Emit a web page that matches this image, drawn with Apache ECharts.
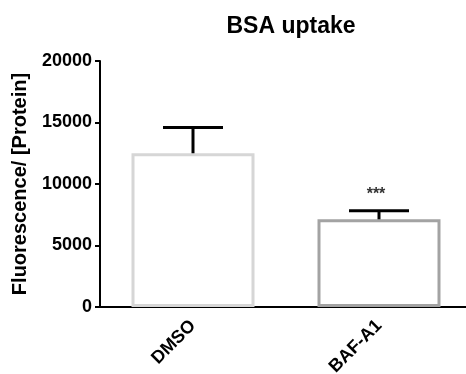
<!DOCTYPE html>
<html>
<head>
<meta charset="utf-8">
<script src="https://cdn.jsdelivr.net/npm/echarts@6/dist/echarts.min.js"></script>
<style>
  html, body { margin: 0; padding: 0; background: #fff; }
  #chart { width: 466px; height: 374px; }
</style>
</head>
<body>
<div id="chart"></div>
<script>
// data
const categories = ['DMSO', 'BAF-A1']
const means = [12500, 7130]
const errors = [2100, 700]
const stars = ['', '***']
const barColors = ['#d6d6d6', '#a3a3a3']
const yTicks = [0, 5000, 10000, 15000, 20000]

const font = '"Liberation Sans", Arial, sans-serif'

const chart = echarts.init(document.getElementById('chart'))

const errData = categories.map((c, i) => [i, means[i], means[i] + errors[i], stars[i]])

chart.setOption({
  animation: false,
  title: {
    text: 'BSA uptake',
    left: 286,
    top: 10,
    textAlign: 'center',
    textStyle: { fontFamily: font, fontWeight: 'bold', fontSize: 23, color: '#000' }
  },
  grid: { left: 100, right: -6, top: 61, bottom: 67, outerBoundsMode: 'none' },
  xAxis: {
    type: 'category',
    data: categories,
    axisLine: { lineStyle: { color: '#000', width: 2 } },
    axisTick: { alignWithLabel: true, length: 6, lineStyle: { color: '#000', width: 2 } },
    axisLabel: {
      rotate: 45,
      margin: 16,
      color: '#000',
      fontFamily: font,
      fontWeight: 'bold',
      fontSize: 18
    }
  },
  yAxis: {
    type: 'value',
    min: yTicks[0],
    max: yTicks[yTicks.length - 1],
    interval: 5000,
    name: 'Fluorescence/ [Protein]',
    nameLocation: 'middle',
    nameGap: 70,
    nameTextStyle: { fontFamily: font, fontWeight: 'bold', fontSize: 20, color: '#000' },
    axisLine: { show: true, lineStyle: { color: '#000', width: 2 } },
    axisTick: { show: true, length: 5, lineStyle: { color: '#000', width: 2 } },
    axisLabel: {
      color: '#000',
      fontFamily: font,
      fontWeight: 'bold',
      fontSize: 18,
      margin: 8,
      formatter: v => String(v)
    },
    splitLine: { show: false }
  },
  series: [
    {
      type: 'bar',
      barWidth: 123,
      data: means.map((v, i) => ({
        value: v,
        itemStyle: { color: '#fff', borderColor: barColors[i], borderWidth: 3 }
      })),
      z: 2
    },
    {
      type: 'custom',
      z: 3,
      data: errData,
      renderItem: (params, api) => {
        const x = api.value(0)
        const low = api.coord([x, api.value(1)])
        const high = api.coord([x, api.value(2)])
        const half = 30
        const style = { stroke: '#000', lineWidth: 3 }
        return {
          type: 'group',
          children: [
            { type: 'line', shape: { x1: low[0], y1: low[1], x2: high[0], y2: high[1] }, style },
            { type: 'line', shape: { x1: high[0] - half, y1: high[1], x2: high[0] + half, y2: high[1] }, style },
            {
              type: 'text',
              style: {
                text: api.value(3) || '',
                x: high[0] - 3,
                y: high[1] - 8,
                textAlign: 'center',
                textVerticalAlign: 'bottom',
                fill: '#333',
                font: 'bold 16px ' + font
              }
            }
          ]
        }
      }
    }
  ]
})
</script>
</body>
</html>
